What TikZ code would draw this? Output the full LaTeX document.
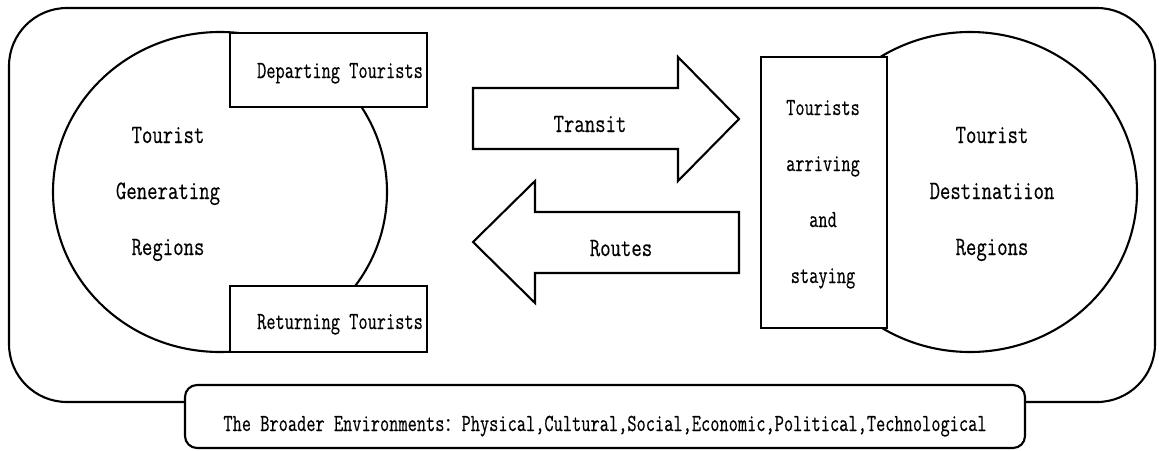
\documentclass[tikz,border=0pt]{standalone}
\usepackage{fontspec}
\usetikzlibrary{shapes.geometric}
\newfontfamily\smallface{Latin Modern Mono}[FakeStretch=0.73, FakeBold=0.4]
\newfontfamily\bigface{Latin Modern Mono}[FakeStretch=0.762, FakeBold=0.4]
\newfontfamily\cjkfont{Noto Sans CJK SC}[FakeStretch=0.9]
\begin{document}
\begin{tikzpicture}[x=1pt,y=-1pt,
  line width=2.1pt, line join=miter,
  lbl/.style={anchor=base, inner sep=0pt, font=\smallface\fontsize{24.5}{24.5}\selectfont},
  biglbl/.style={anchor=base, inner sep=0pt, font=\bigface\fontsize{26.5}{26.5}\selectfont},
  region/.style={draw, fill=white, ellipse, minimum width=334pt, minimum height=320pt, inner sep=0pt},
  flowbox/.style={draw, fill=white, rectangle, inner sep=0pt},
  bigarrow/.style={draw, fill=white}]
\useasboundingbox (0,0) rectangle (1159,450);

% surrounding environment
\draw[rounded corners=58pt] (9,8) rectangle (1155,402);

% generating region with its two gateways
\node[region] (gen) at (220,192) {};
\node[flowbox, minimum width=197pt, minimum height=74pt] (dep) at (328.5,70) {};
\node[flowbox, minimum width=197pt, minimum height=66pt] (ret) at (328.5,319) {};

% destination region with its arrival zone
\node[region] (dest) at (970,192) {};
\node[flowbox, minimum width=126pt, minimum height=271pt] (stay) at (824,192.5) {};

% transit route arrows
\coordinate (tA) at (473,88);
\draw[bigarrow] (tA) -- (678,88) -- (678,57) -- (739,119) -- (678,181) -- (678,149) -- (473,149) -- cycle;
\coordinate (rA) at (739,212);
\draw[bigarrow] (rA) -- (535,212) -- (535,181) -- (473,242) -- (535,303) -- (535,273) -- (739,273) -- cycle;

% broader environments banner
\node[flowbox, rounded corners=12pt, minimum width=840pt, minimum height=63pt] (env) at (605,416.5) {};

% labels
\node[biglbl] (g1) at (168,143) {Tourist};
\node[biglbl] (g2) at (168,199) {Generating};
\node[biglbl] (g3) at (168,255) {Regions};
\node[lbl] (dl) at (340,78) {Departing Tourists};
\node[lbl] (rl) at (340,329) {Returning Tourists};
\node[biglbl] (tl) at (590,132) {Transit};
\node[biglbl] (rol) at (621,256) {Routes};
\node[lbl] (s1) at (823,115) {Tourists};
\node[lbl] (s2) at (823,171) {arriving};
\node[lbl] (s3) at (823,227) {and};
\node[lbl] (s4) at (823,283) {staying};
\node[biglbl] (d1) at (992,143) {Tourist};
\node[biglbl] (d2) at (992,199) {Destinatiion};
\node[biglbl] (d3) at (992,255) {Regions};
\node[lbl] (el) at (605,431) {The Broader Environments{\cjkfont\fontsize{19}{19}\selectfont ：}Physical,Cultural,Social,Economic,Political,Technological};
\end{tikzpicture}
\end{document}
